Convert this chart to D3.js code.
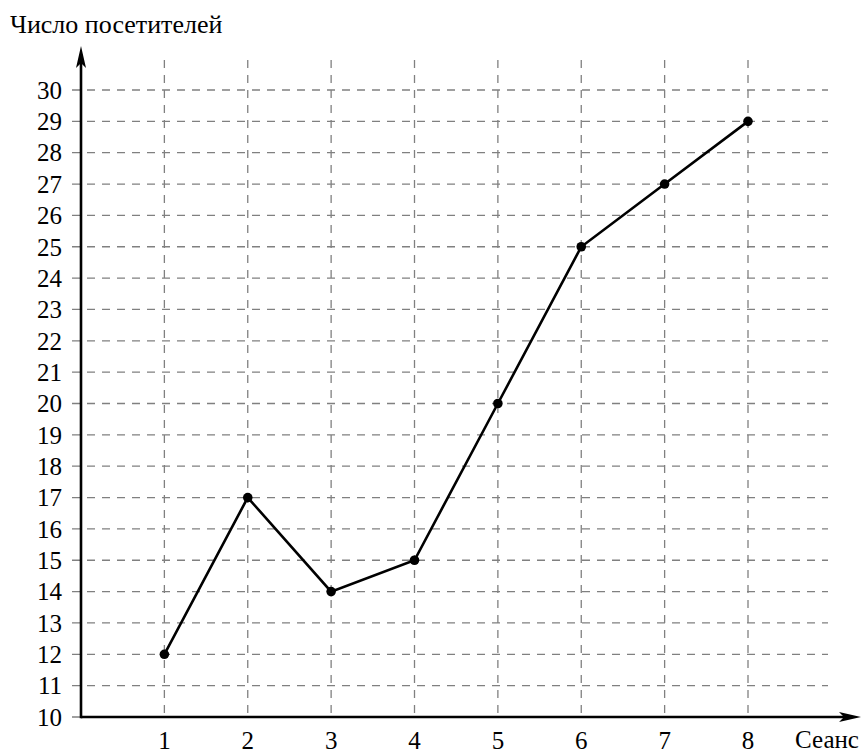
<!DOCTYPE html>
<html><head><meta charset="utf-8">
<script src="https://cdn.jsdelivr.net/npm/d3@7"></script>
<style>body{margin:0;background:#fff}svg{display:block}</style>
</head><body>
<script>
const sessions = [1,2,3,4,5,6,7,8];
const visitors = [12,17,14,15,20,25,27,29];
const yTicks = d3.range(10,31);
const yTitle = "Число посетителей";
const xTitle = "Сеанс";

const W=866,H=754;
const svg=d3.select("body").append("svg").attr("width",W).attr("height",H);
const x=d3.scaleLinear().domain([0,8]).range([81,748]);
const y=d3.scaleLinear().domain([10,30]).range([717,90]);
const font="'Liberation Serif','Times New Roman',serif";
const grid="#808080";

// horizontal grid
svg.append("g").selectAll("line").data(yTicks).join("line")
 .attr("x1",72).attr("x2",828).attr("y1",d=>y(d)).attr("y2",d=>y(d))
 .attr("stroke",grid).attr("stroke-width",1.3).attr("stroke-dasharray","8,7");
// vertical grid
svg.append("g").selectAll("line").data(sessions).join("line")
 .attr("x1",d=>x(d)).attr("x2",d=>x(d)).attr("y1",60).attr("y2",717)
 .attr("stroke",grid).attr("stroke-width",1.3).attr("stroke-dasharray","8,7");

// axes
svg.append("line").attr("x1",x(0)).attr("x2",850).attr("y1",y(10)).attr("y2",y(10)).attr("stroke","#000").attr("stroke-width",2.6);
svg.append("line").attr("x1",x(0)).attr("x2",x(0)).attr("y1",y(10)+1.3).attr("y2",58).attr("stroke","#000").attr("stroke-width",2.6);
// arrows
svg.append("path").attr("d",`M${x(0)},46 L${x(0)-5},68 L${x(0)},63 L${x(0)+5},68 Z`).attr("fill","#000");
svg.append("path").attr("d",`M861,${y(10)} L839,${y(10)-5} L844,${y(10)} L839,${y(10)+5} Z`).attr("fill","#000");

// tick labels
svg.append("g").selectAll("text").data(yTicks).join("text")
 .attr("x",62).attr("y",d=>y(d)).attr("dy","0.35em").attr("text-anchor","end")
 .attr("font-family",font).attr("font-size",25).text(d=>d);
svg.append("g").selectAll("text").data(sessions).join("text")
 .attr("x",d=>x(d)).attr("y",749).attr("text-anchor","middle")
 .attr("font-family",font).attr("font-size",25).text(d=>d);

svg.append("text").attr("x",10).attr("y",33).attr("font-family",font).attr("font-size",26).text(yTitle);
svg.append("text").attr("x",795).attr("y",748).attr("font-family",font).attr("font-size",25).text(xTitle);

// line
const data=sessions.map((s,i)=>({s,v:visitors[i]}));
svg.append("path").datum(data).attr("d",d3.line().x(d=>x(d.s)).y(d=>y(d.v)))
 .attr("fill","none").attr("stroke","#000").attr("stroke-width",2.6);
svg.append("g").selectAll("circle").data(data).join("circle")
 .attr("cx",d=>x(d.s)).attr("cy",d=>y(d.v)).attr("r",4.8).attr("fill","#000");
</script>
</body></html>
